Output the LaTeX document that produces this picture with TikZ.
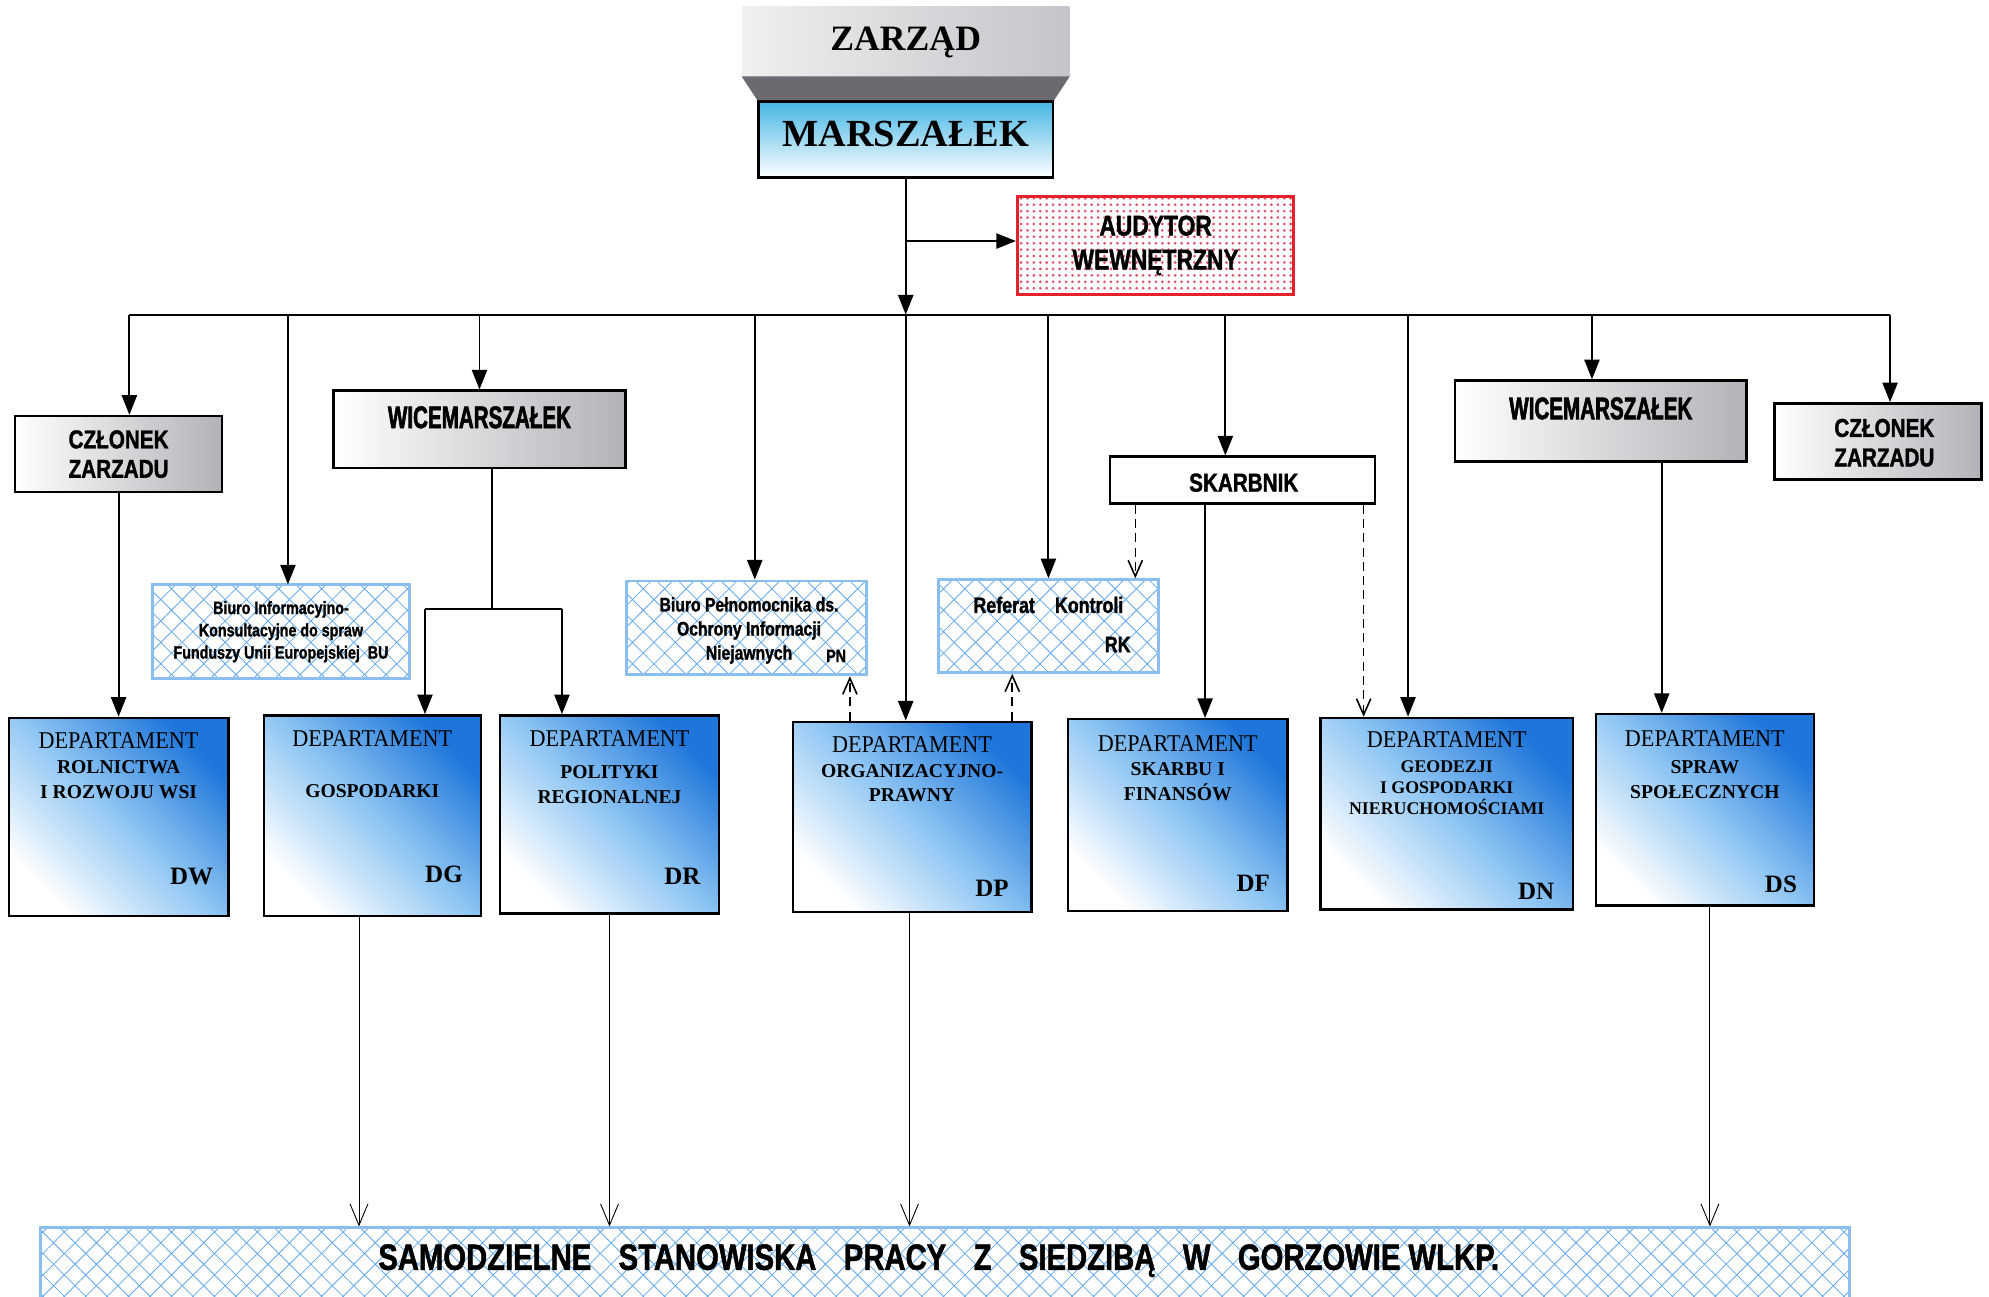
\documentclass[tikz,border=0pt]{standalone}
\usepackage{fontspec}
\setmainfont{Liberation Serif}
\newfontfamily\narrowsf[FakeStretch=0.8, BoldFeatures={FakeBold=1.3}]{Liberation Sans}
\newfontfamily\tightsf[FakeStretch=0.66, BoldFeatures={FakeBold=1.8}]{Liberation Sans}
\newfontfamily\deptrm[FakeStretch=0.92]{Liberation Serif}
\usepackage{xcolor}
\usepackage{tikz}
\usetikzlibrary{calc,fit,arrows.meta,patterns.meta}
\definecolor{deptblue}{HTML}{1F76DA}
\definecolor{deptmid}{HTML}{8FC6F3}
\definecolor{marscyan}{HTML}{45B6E4}
\definecolor{boxgrey}{HTML}{B2B2B8}
\definecolor{zargrey}{HTML}{C4C4CA}
\definecolor{zarshade}{HTML}{6A6A70}
\definecolor{audred}{HTML}{E4222B}
\definecolor{auddot}{HTML}{E0566C}
\definecolor{hatch}{HTML}{62A8EA}
\definecolor{hatchedge}{HTML}{8ABEEF}
\tikzset{
  box/.style={draw=black, line width=1.4pt, inner sep=0pt},
  greybox/.style={box, left color=white, right color=boxgrey},
  deptbox/.style={box, top color=deptblue, bottom color=white, middle color=deptmid, shading angle=-45},
  hatchbox/.style={draw=hatchedge, line width=1.6pt, inner sep=0pt,
    pattern={Hatch[angle=45,distance=8.5pt,line width=0.45pt]}, pattern color=hatch},
  dotbox/.style={draw=audred, line width=1.6pt, inner sep=0pt,
    pattern={Dots[distance=3.6pt,radius=0.85pt]}, pattern color=auddot},
  conn/.style={draw=black, line width=1.1pt},
  arr/.style={conn, -{Triangle[length=11pt,width=8.5pt]}},
  dasharr/.style={draw=black, line width=0.9pt, dash pattern=on 5pt off 3pt, -{Straight Barb[length=9pt,width=8pt]}},
  thinarr/.style={draw=black, line width=0.5pt, -{Straight Barb[length=12pt,width=10pt]}},
  sflab/.style={align=center, font=\narrowsf\bfseries\fontsize{14.5}{16.5}\selectfont},
  wmlab/.style={font=\tightsf\bfseries\fontsize{17.5}{20}\selectfont},
  smalllab/.style={align=center, font=\narrowsf\bfseries\fontsize{10}{12.5}\selectfont},
  depttitle/.style={font=\deptrm\fontsize{13.5}{15}\selectfont},
  deptname/.style={align=center, anchor=north, inner sep=0pt, font=\bfseries\fontsize{11}{14}\selectfont},
  deptcode/.style={font=\bfseries\fontsize{14}{16}\selectfont}
}
\begin{document}
\begin{tikzpicture}[x=0.025cm, y=-0.025cm]
  \useasboundingbox (0,0) rectangle (1568,1022);
  \coordinate (bus) at (0,248);
  \coordinate (busL) at (102,248);
  \coordinate (busR) at (1490,248);
  \coordinate (tBU) at (227,248);
  \coordinate (tPN) at (595,248);
  \coordinate (tSK) at (966,248);
  \coordinate (tDN) at (1110,248);
  \coordinate (tWM) at (1255,248);
  \coordinate (aud) at (714,190);
  \coordinate (wsplit) at (388,480);
  \coordinate (wsL) at (335,480);
  \coordinate (wsR) at (443,480);

  \node[inner sep=0pt, left color=white!94!black, right color=zargrey, fit={(585,5) (843,60)}] (zarzad) {};
  \node[font=\bfseries\fontsize{20}{22}\selectfont] at ($(zarzad)+(0,1)$) {ZARZĄD};
  \node[box, top color=marscyan, bottom color=white, fit={(598,80) (830,140)}] (marsz) {};
  \node[font=\bfseries\fontsize{21.5}{24}\selectfont] at ($(marsz)+(0,-4)$) {MARSZAŁEK};
  \fill[zarshade] (zarzad.south west) -- (zarzad.south east) -- (marsz.north east) -- (marsz.north west) -- cycle;
  \node[dotbox, fit={(802,155) (1020,232)}] (audyt) {};
  \node[align=center, font=\narrowsf\bfseries\fontsize{16}{19}\selectfont] at (audyt) {AUDYTOR\\WEWNĘTRZNY};

  \node[greybox, fit={(12,328) (175,388)}] (cz1) {};
  \node[sflab] at (cz1) {CZŁONEK\\ZARZADU};
  \node[greybox, fit={(263,308) (493,369)}] (wm1) {};
  \node[wmlab] at ($(wm1.north)+(0,22)$) {WICEMARSZAŁEK};
  \node[greybox, fit={(1147,300) (1377,364)}] (wm2) {};
  \node[wmlab] at ($(wm2.north)+(0,23)$) {WICEMARSZAŁEK};
  \node[greybox, fit={(1399,318) (1562,378)}] (cz2) {};
  \node[sflab] at ($(cz2)+(5,1)$) {CZŁONEK\\ZARZADU};
  \node[box, fill=white, fit={(875,360) (1084,397)}] (sk) {};
  \node[sflab] at ($(sk)+(1,2)$) {SKARBNIK};

  \node[hatchbox, fit={(120,461) (323,535)}] (bu) {};
  \node[smalllab] at (bu) {Biuro Informacyjno-\\Konsultacyjne do spraw\\Funduszy Unii Europejskiej~~BU};
  \node[hatchbox, fit={(494,458) (683,532)}] (pn) {};
  \node[smalllab, font=\narrowsf\bfseries\fontsize{11}{13.5}\selectfont] at ($(pn)+(2,2)$) {Biuro Pełnomocnika ds.\\Ochrony Informacji\\Niejawnych};
  \node[smalllab] at ($(pn.south east)+(-25,-16)$) {PN};
  \node[hatchbox, fit={(740,457) (913,530)}] (rk) {};
  \node[font=\narrowsf\bfseries\fontsize{12.5}{15}\selectfont] at ($(rk.north)+(0,21)$) {Referat\hspace{0.9em}Kontroli};
  \node[font=\narrowsf\bfseries\fontsize{12.5}{15}\selectfont] at ($(rk.south east)+(-33,-23)$) {RK};

  \node[deptbox, fit={(7,566) (180,722)}] (dw) {};
  \node[depttitle] at ($(dw.north)+(0,19)$) {DEPARTAMENT};
  \node[deptname] at ($(dw.north)+(0,34)$) {ROLNICTWA\\I ROZWOJU WSI};
  \node[deptcode] at ($(dw.south east)+(-30,-32)$) {DW};
  \node[deptbox, fit={(208,564) (379,722)}] (dg) {};
  \node[depttitle] at ($(dg.north)+(0,19)$) {DEPARTAMENT};
  \node[deptname] at ($(dg.north)+(0,55)$) {GOSPODARKI};
  \node[deptcode] at ($(dg.south east)+(-30,-34)$) {DG};
  \node[deptbox, fit={(394,564) (567,720)}] (dr) {};
  \node[depttitle] at ($(dr.north)+(0,19)$) {DEPARTAMENT};
  \node[deptname] at ($(dr.north)+(0,40)$) {POLITYKI\\REGIONALNEJ};
  \node[deptcode] at ($(dr.south east)+(-30,-30)$) {DR};
  \node[deptbox, fit={(625,569) (813,719)}] (dp) {};
  \node[depttitle] at ($(dp.north)+(0,19)$) {DEPARTAMENT};
  \node[deptname] at ($(dp.north)+(0,34)$) {ORGANIZACYJNO-\\PRAWNY};
  \node[deptcode] at ($(dp.south east)+(-32,-20)$) {DP};
  \node[deptbox, fit={(842,567) (1015,718)}] (df) {};
  \node[depttitle] at ($(df.north)+(0,20)$) {DEPARTAMENT};
  \node[deptname] at ($(df.north)+(0,35)$) {SKARBU I\\FINANSÓW};
  \node[deptcode] at ($(df.south east)+(-28,-23)$) {DF};
  \node[deptbox, fit={(1041,566) (1240,717)}] (dn) {};
  \node[depttitle] at ($(dn.north)+(0,18)$) {DEPARTAMENT};
  \node[deptname, font=\bfseries\fontsize{10}{12}\selectfont] at ($(dn.north)+(0,34)$) {GEODEZJI\\I GOSPODARKI\\NIERUCHOMOŚCIAMI};
  \node[deptcode] at ($(dn.south east)+(-30,-15)$) {DN};
  \node[deptbox, fit={(1258,563) (1430,714)}] (ds) {};
  \node[depttitle] at ($(ds.north)+(0,20)$) {DEPARTAMENT};
  \node[deptname] at ($(ds.north)+(0,37)$) {SPRAW\\SPOŁECZNYCH};
  \node[deptcode] at ($(ds.south east)+(-27,-18)$) {DS};

  \node[hatchbox, fit={(32,968) (1458,1030)}] (sam) {};
  \node[font=\narrowsf\bfseries\fontsize{20.5}{23}\selectfont] at ($(sam.north)+(-5,27)$)
    {SAMODZIELNE\hspace{0.75em}STANOWISKA\hspace{0.75em}PRACY\hspace{0.75em}Z\hspace{0.75em}SIEDZIBĄ\hspace{0.75em}W\hspace{0.75em}GORZOWIE WLKP.};

  \draw[arr] (marsz.south) -- (marsz.south |- bus);
  \draw[arr] (aud) -- (aud -| audyt.west);
  \draw[conn] (busL) -- (busR);
  \draw[arr] (busL) -- (busL |- cz1.north);
  \draw[arr] (tBU) -- (tBU |- bu.north);
  \draw[arr] (wm1.north |- bus) -- (wm1.north);
  \draw[arr] (tPN) -- (tPN |- pn.north);
  \draw[arr] (marsz.south |- bus) -- (marsz.south |- dp.north);
  \draw[arr] (rk.north |- bus) -- (rk.north);
  \draw[arr] (tSK) -- (tSK |- sk.north);
  \draw[arr] (tDN) -- (tDN |- dn.north);
  \draw[arr] (tWM) -- (tWM |- wm2.north);
  \draw[arr] (busR) -- (busR |- cz2.north);

  \draw[arr] (cz1.south) -- (dw.north);
  \draw[conn] (wsplit |- wm1.south) -- (wsplit);
  \draw[conn] (wsL) -- (wsR);
  \draw[arr] (wsL) -- (wsL |- dg.north);
  \draw[arr] (wsR) -- (wsR |- dr.north);

  \draw[dasharr] (sk.south -| 895,0) -- (rk.north -| 895,0);
  \draw[arr] (sk.south -| 950,0) -- (df.north -| 950,0);
  \draw[dasharr] (sk.south -| 1075,0) -- (dn.north -| 1075,0);
  \draw[dasharr] (dp.north -| 670,0) -- (pn.south -| 670,0);
  \draw[dasharr] (dp.north -| 798,0) -- (rk.south -| 798,0);
  \draw[arr] (wm2.south -| 1310,0) -- (ds.north -| 1310,0);

  \draw[thinarr] (dg.south -| 283,0) -- (sam.north -| 283,0);
  \draw[thinarr] (dr.south) -- (sam.north -| dr.south);
  \draw[thinarr] (dp.south -| 717,0) -- (sam.north -| 717,0);
  \draw[thinarr] (ds.south -| 1348,0) -- (sam.north -| 1348,0);
\end{tikzpicture}
\end{document}
